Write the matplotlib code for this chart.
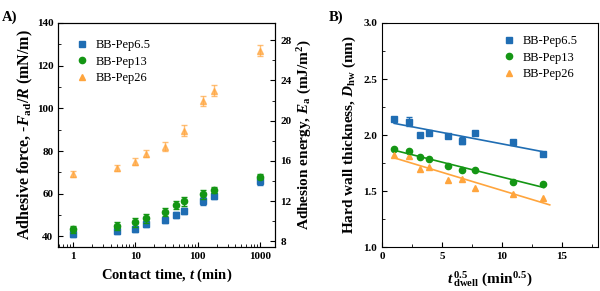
import numpy as np
import matplotlib
matplotlib.use("Agg")
import matplotlib.pyplot as plt
from matplotlib.lines import Line2D
from matplotlib.ticker import FixedLocator, FixedFormatter, MultipleLocator, LogLocator, NullFormatter

plt.rcParams['font.family'] = ['Liberation Serif', 'DejaVu Serif']
plt.rcParams['mathtext.fontset'] = 'custom'
plt.rcParams['mathtext.rm'] = 'Liberation Serif:bold'
plt.rcParams['mathtext.it'] = 'Liberation Serif:italic:bold'
plt.rcParams['mathtext.bf'] = 'Liberation Serif:bold'

# panel A: adhesive force vs contact time
t_a = [1, 5, 10, 15, 30, 45, 60, 120, 180, 1000]
f_pep65 = [41.0, 42.5, 43.4, 45.8, 47.6, 50.0, 52.0, 56.5, 59.0, 66.0]
e_pep65 = [1.5, 1.5, 1.5, 1.5, 1.5, 1.5, 1.5, 1.8, 1.5, 2.0]
f_pep13 = [43.3, 44.8, 46.6, 48.4, 51.5, 54.7, 56.4, 59.7, 61.7, 67.9]
e_pep13 = [1.5, 1.8, 2.0, 2.0, 2.0, 2.0, 2.2, 2.0, 1.5, 1.2]
t_a26 = [1, 5, 10, 15, 30, 60, 120, 180, 1000]
f_pep26 = [69.3, 72.0, 75.0, 78.8, 82.0, 89.5, 103.5, 108.3, 127.0]
e_pep26 = [1.5, 1.5, 1.5, 1.8, 2.0, 2.5, 2.5, 2.5, 2.5]

# panel B: hard wall thickness vs sqrt(dwell time)
t_b = [1, 5, 10, 15, 30, 45, 60, 120, 180]
d_pep65 = [2.14, 2.12, 2.00, 2.02, 1.99, 1.95, 2.02, 1.94, 1.83]
de_pep65 = [0.01, 0.04, 0.01, 0.01, 0.01, 0.03, 0.01, 0.02, 0.02]
d_pep13 = [1.875, 1.855, 1.80, 1.79, 1.72, 1.69, 1.69, 1.585, 1.56]
d_pep26 = [1.82, 1.81, 1.70, 1.715, 1.60, 1.605, 1.53, 1.475, 1.44]

labels = ['BB-Pep6.5', 'BB-Pep13', 'BB-Pep26']
c_blue = '#1f6db3'
c_green = '#149614'
c_orange = '#ffa53d'

fig = plt.figure(figsize=(6, 2.91), dpi=100)
ax1 = fig.add_axes([0.097, 0.151, 0.362, 0.770])
ax3 = fig.add_axes([0.637, 0.151, 0.359, 0.770])

tick_kw = dict(direction='in', labelsize=8)


def legend_handles():
    return [Line2D([], [], ls='', marker='s', color=c_blue, ms=4),
            Line2D([], [], ls='', marker='o', color=c_green, ms=4.5),
            Line2D([], [], ls='', marker='^', color=c_orange, ms=5)]


ax1.errorbar(t_a, f_pep65, yerr=e_pep65, fmt='s', color=c_blue, ms=4, capsize=2, elinewidth=1, zorder=3)
ax1.errorbar(t_a, f_pep13, yerr=e_pep13, fmt='o', color=c_green, ms=4.5, capsize=2, elinewidth=1, zorder=4)
ax1.errorbar(t_a26, f_pep26, yerr=e_pep26, fmt='^', color=c_orange, ms=4.5, capsize=2, elinewidth=1, alpha=0.7)
ax1.set_xscale('log')
ax1.set_xlim(0.58, 1750)
ax1.set_ylim(35, 140)
ax1.xaxis.set_major_locator(FixedLocator([1, 10, 100, 1000]))
ax1.xaxis.set_major_formatter(FixedFormatter(['1', '10', '100', '1000']))
ax1.xaxis.set_minor_locator(LogLocator(base=10, subs=np.arange(2, 10)))
ax1.xaxis.set_minor_formatter(NullFormatter())
ax1.yaxis.set_major_locator(MultipleLocator(20))
ax1.yaxis.set_minor_locator(MultipleLocator(10))
ax1.tick_params(which='both', top=False, **tick_kw)
ax1.tick_params(which='minor', length=2)
for lab in ax1.get_xticklabels() + ax1.get_yticklabels():
    lab.set_fontweight('bold')
ax1.set_xlabel('Contact time, $t$ (min)', fontsize=10.5, fontweight='bold')
ax1.set_ylabel(r'Adhesive force, -$F_{\rm ad}$/$R$ (mN/m)', fontsize=11.5, fontweight='bold', labelpad=1)
ax1.legend(legend_handles(), labels, loc='upper left', frameon=False, fontsize=9, handlelength=1.2,
           handletextpad=0.5, borderaxespad=0.9, labelspacing=0.35)

ax2 = ax1.twinx()
ax2.set_ylim(35 / (1.5 * np.pi), 140 / (1.5 * np.pi))
ax2.yaxis.set_major_locator(MultipleLocator(4))
ax2.yaxis.set_minor_locator(MultipleLocator(2))
ax2.tick_params(which='both', **tick_kw)
ax2.tick_params(which='minor', length=2)
for lab in ax2.get_yticklabels():
    lab.set_fontweight('bold')
ax2.set_ylabel(r'Adhesion energy, $E_{\rm a}$ (mJ/m$^{2}$)', fontsize=11, fontweight='bold', labelpad=3)

# panel B
x_b = np.sqrt(t_b)
ax3.errorbar(x_b, d_pep65, yerr=de_pep65, fmt='s', color=c_blue, ms=4, capsize=2, elinewidth=1)
ax3.plot(x_b, d_pep13, 'o', color=c_green, ms=4.5)
ax3.plot(x_b, d_pep26, '^', color=c_orange, ms=5)
for d, c, xend in [(d_pep65, c_blue, 13.5), (d_pep13, c_green, 13.5), (d_pep26, c_orange, 14.0)]:
    k, b = np.polyfit(x_b, d, 1)
    xx = np.array([x_b[0], xend])
    ax3.plot(xx, k * xx + b, color=c, lw=1.2)
ax3.set_xlim(0, 18)
ax3.set_ylim(1.0, 3.0)
ax3.xaxis.set_major_locator(MultipleLocator(5))
ax3.xaxis.set_minor_locator(MultipleLocator(2.5))
ax3.yaxis.set_major_locator(MultipleLocator(0.5))
ax3.yaxis.set_minor_locator(MultipleLocator(0.25))
ax3.tick_params(which='both', **tick_kw)
ax3.tick_params(which='minor', length=2)
for lab in ax3.get_xticklabels() + ax3.get_yticklabels():
    lab.set_fontweight('bold')
ax3.set_xlabel(r'$\mathit{t}\,^{0.5}_{\rm dwell}$ (min$^{0.5}$)', fontsize=11, fontweight='bold', labelpad=6)
ax3.set_ylabel(r'Hard wall thickness, $D_{\rm hw}$ (nm)', fontsize=11, fontweight='bold')
ax3.legend(legend_handles(), labels, loc='upper right', frameon=False, fontsize=9, handlelength=1.2,
           handletextpad=0.5, borderaxespad=0.6, labelspacing=0.35, bbox_to_anchor=(0.965, 1.0))

fig.text(0.003, 0.965, 'A)', fontsize=10.5, fontweight='bold', va='top')
fig.text(0.548, 0.965, 'B)', fontsize=10.5, fontweight='bold', va='top')

fig.savefig('out.png', dpi=100)
